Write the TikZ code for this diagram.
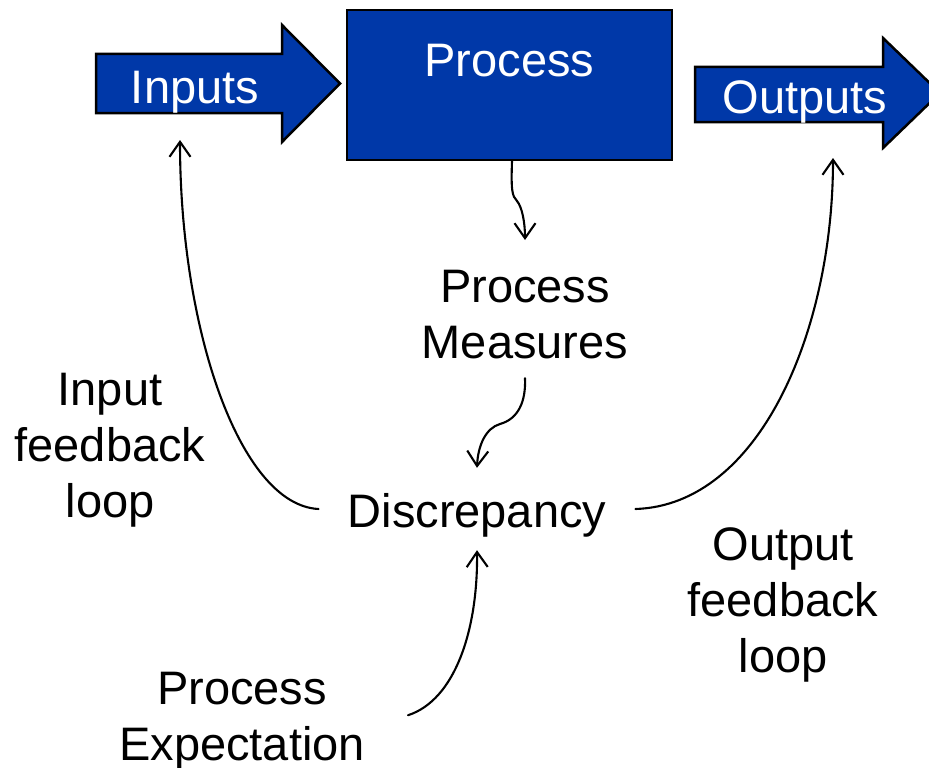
\documentclass[tikz,border=0pt]{standalone}
\usepackage{fontspec}
\setmainfont{Liberation Sans}
\usetikzlibrary{arrows.meta}
\definecolor{procblue}{RGB}{0,56,168}
\begin{document}
\begin{tikzpicture}[x=1pt,y=-1pt,
  bigfont/.style={font=\fontsize{47}{56}\selectfont},
  blockshape/.style={fill=procblue,draw=black,line width=2.5pt,line join=miter},
  whitelabel/.style={bigfont,text=white,inner sep=0pt},
  plainlabel/.style={bigfont,align=center,inner sep=0pt},
  conn/.style={line width=2.1pt,line cap=round,
    -{Straight Barb[length=15pt,width=21pt,line width=2.1pt]}}]
\useasboundingbox (0,0) rectangle (929,768);
\clip (0,0) rectangle (929,768);

% block arrows and the process box
\draw[blockshape] (96,54) -- (282,54) -- (282,25) -- (340,83.5) -- (282,142)
  -- (282,113) -- (96,113) -- cycle;
\draw[blockshape] (695,67) -- (883,67) -- (883,38) -- (940,93) -- (883,148)
  -- (883,122) -- (695,122) -- cycle;
\node[blockshape,minimum width=325pt,minimum height=150pt,inner sep=0pt,
  bigfont,text=white,text height=10pt,text depth=26pt] (proc) at (509.5,85) {Process};

\node[whitelabel,anchor=base] (inlbl) at (195,103) {Inputs};
\node[whitelabel,anchor=base] (outlbl) at (805,113) {Outputs};

% text labels
\node[plainlabel,anchor=north] (pm) at (525,270) {Process\\Measures};
\node[plainlabel,anchor=base,inner xsep=29pt,inner ysep=0pt,
  text height=59pt,text depth=23pt] (disc) at (477,527) {Discrepancy};
\node[plainlabel,anchor=north] (ifl) at (110,373) {Input\\feedback\\loop};
\node[plainlabel,anchor=north] (ofl) at (783,527) {Output\\feedback\\loop};
\node[plainlabel,anchor=north] (pe) at (242,672) {Process\\Expectation};

% connectors
\draw[conn] ([xshift=2.5pt]proc.south) .. controls (511,190) and (512,196) .. (517,201)
  .. controls (522,207) and (525,222) .. ([yshift=30pt]pm.north);
\draw[conn] ([yshift=-19pt]pm.south) .. controls (526,402) and (518,419) .. (500,424)
  .. controls (486,428) and (478,445) .. (disc.north);
\draw[conn] (disc.west) .. controls (240,505) and (180,330)
  .. ([xshift=-15pt,yshift=-37pt]inlbl.base);
\draw[conn] (disc.east) .. controls (760,505) and (833,330)
  .. ([xshift=28pt,yshift=-45pt]outlbl.base);
\draw[conn] ([xshift=43pt,yshift=6pt]pe.east) .. controls (455,700) and (478,630)
  .. (disc.south);
\end{tikzpicture}
\end{document}
